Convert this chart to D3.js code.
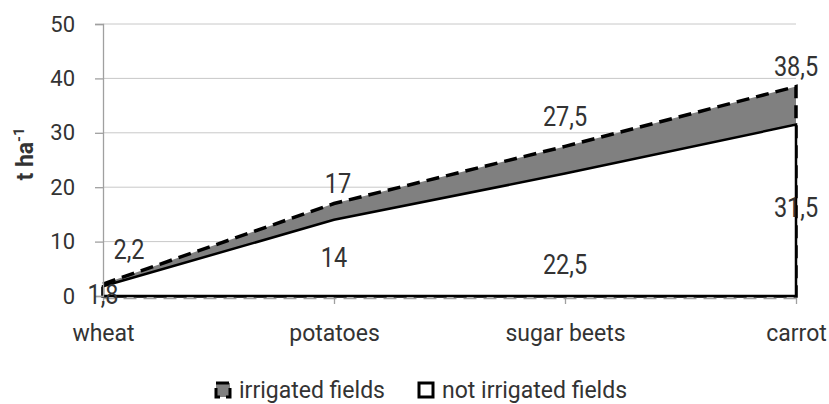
<!DOCTYPE html>
<html>
<head>
<meta charset="utf-8">
<script src="https://cdn.jsdelivr.net/npm/d3@7"></script>
<style>
  body { margin: 0; background: #fff; }
  text { font-family: Roboto, "Noto Sans", sans-serif; font-weight: 400; fill: #333; }
</style>
</head>
<body>
<svg id="chart" width="829" height="404"></svg>
<script>
const crops = ["wheat", "potatoes", "sugar beets", "carrot"];
const irrigated = [2.2, 17, 27.5, 38.5];
const notIrrigated = [1.8, 14, 22.5, 31.5];
const yTicks = [0, 10, 20, 30, 40, 50];
const seriesNames = ["irrigated fields", "not irrigated fields"];

// label nudges (px) so labels sit like the original
const irrDx = [26, 4, 0, 0];
const irrDy = [-34, -20, -29, -20];
const notDy = [4, 0, 30, -2];

const svg = d3.select("#chart");
const plotLeft = 103, plotRight = 796, plotTop = 24, plotBottom = 296;
const squeeze = 0.87; // the original labels use a narrow face

const x = d3.scalePoint().domain(crops).range([plotLeft, plotRight]);
const y = d3.scaleLinear().domain([0, 50]).range([plotBottom, plotTop]);

// gridlines
svg.append("g")
  .selectAll("line")
  .data(yTicks.filter(d => d > 0))
  .join("line")
  .attr("x1", plotLeft).attr("x2", plotRight)
  .attr("y1", d => y(d)).attr("y2", d => y(d))
  .attr("stroke", "#c8c8c8").attr("stroke-width", 1);

const area = vals => d3.area()
  .x((d, i) => x(crops[i]))
  .y0(y(0))
  .y1(d => y(d))(vals);

// irrigated: grey with dashed border
svg.append("path")
  .attr("d", area(irrigated))
  .attr("fill", "#808080")
  .attr("stroke", "#000")
  .attr("stroke-width", 3.5)
  .attr("stroke-dasharray", "13,7");

// not irrigated: white with solid border
svg.append("path")
  .attr("d", area(notIrrigated))
  .attr("fill", "#fff")
  .attr("stroke", "#000")
  .attr("stroke-width", 2.5);

// y axis
const yAxis = svg.append("g")
  .attr("transform", `translate(${plotLeft},0)`)
  .call(d3.axisLeft(y).tickValues(yTicks).tickSize(8).tickPadding(20));
yAxis.select(".domain").attr("stroke", "#a0a0a0").attr("stroke-width", 1.3);
yAxis.selectAll(".tick line").attr("stroke", "#a0a0a0").attr("stroke-width", 1.3);
yAxis.selectAll(".tick text")
  .style("font-size", "22px").style("font-family", "Roboto").style("font-weight", 400)
  .attr("fill", "#333");

// x axis
const xAxis = svg.append("g")
  .attr("transform", `translate(0,${plotBottom + 2})`)
  .call(d3.axisBottom(x).tickSize(6).tickPadding(21).tickSizeOuter(0));
xAxis.select(".domain").attr("stroke", "#a0a0a0").attr("stroke-width", 1.3)
  .attr("stroke-dasharray", "13,7");
xAxis.selectAll(".tick line").attr("stroke", "#a0a0a0").attr("stroke-width", 1.3);
xAxis.selectAll(".tick text")
  .style("font-size", "23px").style("font-family", "Roboto").style("font-weight", 400)
  .attr("fill", "#333");

// data labels
const labelText = d => String(d).replace(".", ",");

svg.append("g")
  .selectAll("text")
  .data(irrigated)
  .join("text")
  .attr("transform", (d, i) =>
    `translate(${x(crops[i]) + irrDx[i]},${y(d) + irrDy[i]}) scale(${squeeze},1)`)
  .attr("text-anchor", "middle")
  .attr("dominant-baseline", "central")
  .style("font-size", "27px")
  .text(labelText);

svg.append("g")
  .selectAll("text")
  .data(notIrrigated)
  .join("text")
  .attr("transform", (d, i) =>
    `translate(${x(crops[i])},${y(d / 2) + notDy[i]}) scale(${squeeze},1)`)
  .attr("text-anchor", "middle")
  .attr("dominant-baseline", "central")
  .style("font-size", "27px")
  .text(labelText);

// y title
const yt = svg.append("text")
  .attr("transform", "translate(33,154) rotate(-90)")
  .attr("text-anchor", "middle")
  .style("font-size", "23px")
  .style("font-weight", 700);
yt.append("tspan").text("t ha");
yt.append("tspan").attr("baseline-shift", "super").style("font-size", "15px").text("-1");

// legend
const legend = svg.append("g").attr("transform", "translate(216,0)");
const items = legend.selectAll("g")
  .data(seriesNames)
  .join("g")
  .attr("transform", (d, i) => `translate(${i * 203},0)`);
items.append("rect")
  .attr("x", 0).attr("y", 383).attr("width", 14).attr("height", 14)
  .attr("fill", (d, i) => i === 0 ? "#808080" : "#fff")
  .attr("stroke", "#000")
  .attr("stroke-width", 3)
  .attr("stroke-dasharray", (d, i) => i === 0 ? "13,6" : null);
items.append("text")
  .attr("x", 23).attr("y", 398)
  .style("font-size", "23px")
  .text(d => d);
</script>
</body>
</html>
